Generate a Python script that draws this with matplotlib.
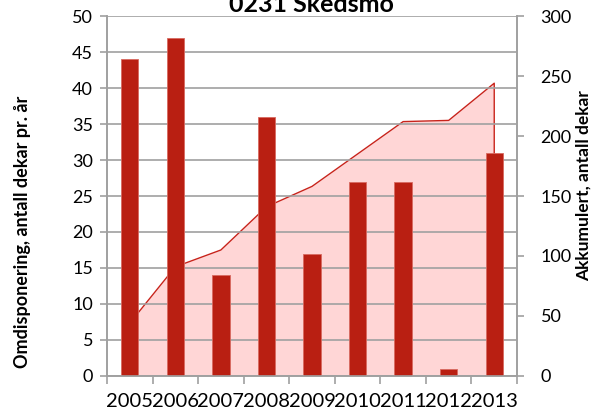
import numpy as np
import matplotlib.pyplot as plt

# Data
aar = ['2005', '2006', '2007', '2008', '2009', '2010', '2011', '2012', '2013']
per_aar = [44, 47, 14, 36, 17, 27, 27, 1, 31]
akkumulert = [44, 91, 105, 141, 158, 185, 212, 213, 244]

plt.rcParams['font.family'] = ['Lato', 'DejaVu Sans']

fig = plt.figure(figsize=(6.03, 4.18), dpi=100)
ax = fig.add_axes([0.1774, 0.1005, 0.68, 0.8612])
ax2 = ax.twinx()
ax.set_zorder(ax2.get_zorder() + 1)
ax.patch.set_visible(False)

x = np.arange(len(aar))
grid_farge = '#a0a0a0'

# Akkumulert areal (høyre akse)
ax2.fill_between(x, akkumulert, color='#ffd6d6', linewidth=0)
ax2.plot(np.r_[x, x[-1]], np.r_[akkumulert, 0], color='#c8231b', linewidth=1)
ax2.set_ylim(0, 300)
ax2.set_yticks(range(0, 301, 50))

# Stolper (venstre akse)
ax.bar(x, per_aar, width=0.38, color='#b91f12', edgecolor='#d86a60', linewidth=0.6)
ax.set_ylim(0, 50)
ax.set_yticks(range(0, 51, 5))
ax.set_xlim(-0.5, len(aar) - 0.5)
ax.set_axisbelow(True)
ax.yaxis.grid(True, color=grid_farge, linewidth=1.2)

# x-akse: tick-merker mellom kategoriene, etiketter i midten
ax.set_xticks(np.arange(len(aar) + 1) - 0.5)
ax.set_xticklabels([])
ax.set_xticks(x, minor=True)
ax.set_xticklabels(aar, minor=True, fontsize=14.5)
ax.tick_params(axis='x', which='minor', length=0, pad=12)
ax.tick_params(axis='x', which='major', length=6, color=grid_farge, width=1.2)

ax.tick_params(axis='y', length=5, color=grid_farge, width=1.2, labelsize=13, pad=5)
ax2.tick_params(axis='y', length=5, color=grid_farge, width=1.2, labelsize=13, pad=12)

for a in (ax, ax2):
    a.spines['top'].set_visible(False)
    for s in ('left', 'right', 'bottom'):
        a.spines[s].set_color(grid_farge)
        a.spines[s].set_linewidth(1.2)

ax.set_ylabel('Omdisponering, antall dekar pr. år', fontsize=13, fontweight='bold', va='center')
ax.yaxis.set_label_coords(-0.207, 0.4)
ax2.set_ylabel('Akkumulert, antall dekar', fontsize=12.5, fontweight='bold', va='center')
ax2.yaxis.set_label_coords(1.163, 0.53)

fig.text(0.517, 0.971, '0231 Skedsmo', ha='center', va='baseline', fontsize=18, fontweight='bold')

fig.savefig('out.png', dpi=100)
